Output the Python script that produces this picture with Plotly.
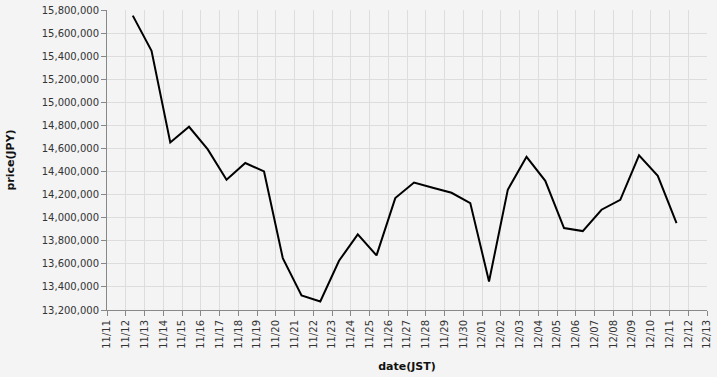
import plotly.graph_objects as go
import pandas as pd

dates = pd.date_range("2025-11-12 09:00", "2025-12-11 09:00", freq="D")
prices = [
    15751000, 15447000, 14652000, 14788000, 14592000, 14329000, 14474000, 14401000,
    13650000, 13326000, 13274000, 13627000, 13855000, 13673000, 14170000, 14305000,
    14259000, 14216000, 14127000, 13447000, 14242000, 14528000, 14320000, 13910000,
    13884000, 14069000, 14155000, 14540000, 14363000, 13953000,
]
x_range = ["2025-11-11", "2025-12-13"]
y_range = [13200000, 15800000]

bg = "#f4f4f4"
grid = "#dddddd"
axis_col = "#888888"
font_fam = "DejaVu Sans"

fig = go.Figure(
    go.Scatter(x=dates, y=prices, mode="lines",
               line=dict(color="black", width=2))
)

fig.update_layout(
    width=717, height=377,
    margin=dict(l=107, r=10, t=10, b=67),
    paper_bgcolor=bg, plot_bgcolor=bg,
    showlegend=False,
    font=dict(family=font_fam, size=10, color="#333333"),
)

fig.update_xaxes(
    range=x_range, tickmode="linear", tick0="2025-11-11", dtick=86400000,
    tickformat="%m/%d", tickangle=-90,
    showgrid=True, gridcolor=grid, gridwidth=1,
    showline=True, linecolor=axis_col, linewidth=1,
    ticks="outside", ticklen=5, tickcolor=axis_col,
    zeroline=False, automargin=False,
    title=dict(text="<b>date(JST)</b>", font=dict(size=11, color="#111111"), standoff=14),
)
fig.update_yaxes(
    range=y_range, tickmode="linear", tick0=13200000, dtick=200000,
    tickformat=",d",
    showgrid=True, gridcolor=grid, gridwidth=1,
    showline=True, linecolor=axis_col, linewidth=1,
    ticks="outside", ticklen=5, tickcolor=axis_col,
    zeroline=False, automargin=False,
    title=dict(text="<b>price(JPY)</b>", font=dict(size=11, color="#111111"), standoff=24),
)

fig.write_html("out.html")
